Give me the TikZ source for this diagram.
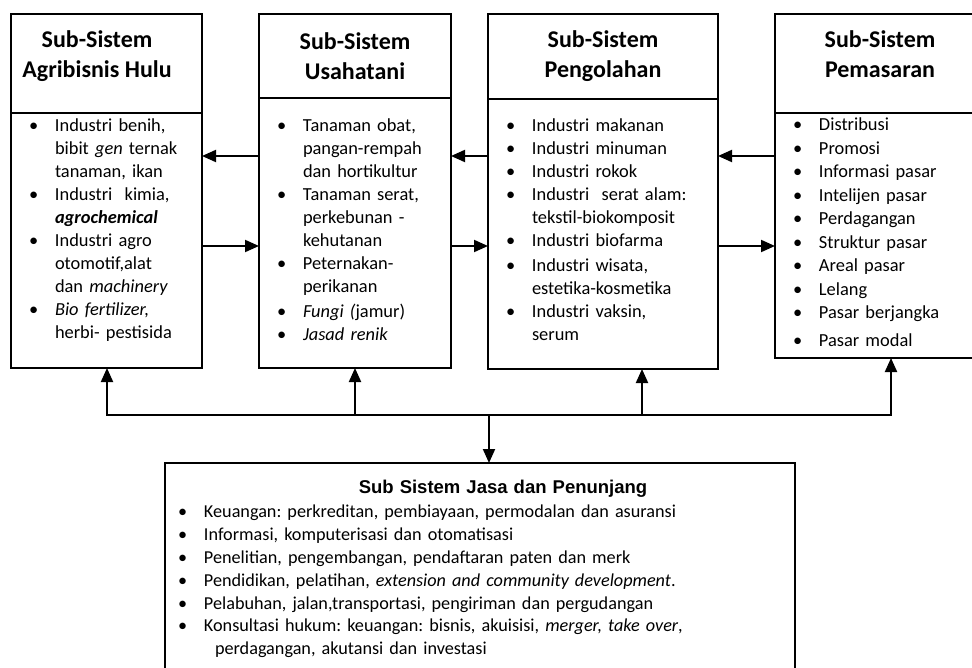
\documentclass[tikz,border=0pt]{standalone}
\usepackage{fontspec}
\setmainfont{Carlito}
\newfontfamily\arialfont{Liberation Sans}
\usetikzlibrary{arrows.meta}
\frenchspacing

% bullet items with hanging indent
\newcommand{\itm}[1]{\hangindent=26pt\hangafter=1\noindent\makebox[26pt][l]{\textbullet}#1\par}
\newcommand{\itmj}[1]{\hangindent=37pt\hangafter=1\noindent\makebox[26pt][l]{\textbullet}#1\par}
\newcommand{\hdeep}{\rule[-18.5pt]{0pt}{18.5pt}}

\begin{document}
\begin{tikzpicture}[
        x=1pt, y=-1pt,
        head_box/.style={draw, line width=1.8pt, outer sep=0pt, anchor=north, align=center,
            font=\fontsize{24}{30}\selectfont\bfseries},
        list_box/.style={draw, line width=1.8pt, outer sep=0pt, anchor=north, inner xsep=18pt,
            inner ysep=0pt, font=\fontsize{18.4}{23}\selectfont},
        jasa_box/.style={draw, line width=1.8pt, outer sep=0pt, anchor=north, inner xsep=13pt,
            inner ysep=0pt, text width=604pt, font=\fontsize{18.2}{22.8}\selectfont},
        arr/.style={line width=2pt, -{Triangle[length=14pt,width=12pt]}}
    ]

    \useasboundingbox (0,0) rectangle (972,668);
    \clip (0,0) rectangle (972,668);

    % --- Sub-Sistem Headers ---
    \node[head_box, minimum width=191pt, minimum height=99pt] (h1) at (106.5,14) {Sub-Sistem\hspace*{19pt}\\Agribisnis Hulu\hspace*{19pt}\hdeep};
    \node[head_box, minimum width=192pt, minimum height=84pt] (h2) at (355,14) {Sub-Sistem\\Usahatani};
    \node[head_box, minimum width=230pt, minimum height=85pt] (h3) at (603,14) {Sub-Sistem\\Pengolahan};
    \node[head_box, minimum width=210pt, minimum height=99pt] (h4) at (880,14) {Sub-Sistem\\Pemasaran\hdeep};

    % --- Sub-Sistem Lists ---
    \node[list_box, text width=155pt, text height=19pt, text depth=236pt] (b1) at (h1.south) {%
        \itm{Industri benih,\newline bibit \textit{gen} ternak\newline tanaman, ikan}%
        \itm{Industri\ \ kimia,\newline \textbf{\textit{agrochemical}}}%
        \itm{Industri agro\newline otomotif,alat\newline dan \textit{machinery}}%
        \itm{\textit{Bio fertilizer,}\newline herbi- pestisida}};
    \node[list_box, text width=156pt, text height=34pt, text depth=236pt] (b2) at (h2.south) {%
        \itm{Tanaman obat,\newline pangan-rempah\newline dan hortikultur}%
        \itm{Tanaman serat,\newline perkebunan -\newline kehutanan}%
        \itm{Peternakan-\newline perikanan}%
        \vspace{2pt}\itm{\textit{Fungi (}jamur)}%
        \itm{\textit{Jasad renik}}};
    \node[list_box, text width=194pt, text height=33pt, text depth=237pt] (b3) at (h3.south) {%
        \itm{Industri makanan}%
        \itm{Industri minuman}%
        \itm{Industri rokok}%
        \itm{Industri\ \ serat alam:\newline tekstil-biokomposit}%
        \itm{Industri biofarma}%
        \vspace{2pt}\itm{Industri wisata,\newline estetika-kosmetika}%
        \itm{Industri vaksin,\newline serum}};
    \node[list_box, text width=174pt, text height=18pt, text depth=227pt,
        font=\fontsize{18.4}{23.5}\selectfont] (b4) at (h4.south) {%
        \itm{Distribusi}%
        \itm{Promosi}%
        \itm{Informasi pasar}%
        \itm{Intelijen pasar}%
        \itm{Perdagangan}%
        \itm{Struktur pasar}%
        \itm{Areal pasar}%
        \itm{Lelang}%
        \itm{Pasar berjangka}%
        \vspace{4pt}\itm{Pasar modal}};

    % --- Jasa dan Penunjang ---
    \node[jasa_box, text height=30pt, text depth=190pt] (jasa) at (480,463) {%
        {\centering\hspace*{46pt}\fontsize{18.5}{22.8}\arialfont\bfseries Sub Sistem Jasa dan Penunjang\par}%
        \vspace{2pt}%
        \itmj{Keuangan: perkreditan, pembiayaan, permodalan dan asuransi}%
        \itmj{Informasi, komputerisasi dan otomatisasi}%
        \itmj{Penelitian, pengembangan, pendaftaran paten dan merk}%
        \itmj{Pendidikan, pelatihan, \textit{extension and community development}.}%
        \itmj{Pelabuhan, jalan,transportasi, pengiriman dan pergudangan}%
        \itmj{Konsultasi hukum: keuangan: bisnis, akuisisi, \textit{merger, take over},\newline perdagangan, akutansi dan investasi}};

    % --- Arrows between Sub-Sistem ---
    \coordinate (up) at (0,156);
    \coordinate (dn) at (0,246);
    \draw[arr] (b2.west |- up) -- (b1.east |- up);
    \draw[arr] (b1.east |- dn) -- (b2.west |- dn);
    \draw[arr] (b3.west |- up) -- (b2.east |- up);
    \draw[arr] (b2.east |- dn) -- (b3.west |- dn);
    \draw[arr] (b4.west |- up) -- (b3.east |- up);
    \draw[arr] (b3.east |- dn) -- (b4.west |- dn);

    % --- Bus to Jasa ---
    \coordinate (t1) at (107,415);
    \coordinate (t2) at (355,415);
    \coordinate (t3) at (642,415);
    \coordinate (t4) at (891,415);
    \coordinate (t0) at (489,415);
    \draw[line width=2pt, line cap=rect] (t1) -- (t4);
    \draw[arr] (t1) -- (t1 |- b1.south);
    \draw[arr] (t2) -- (t2 |- b2.south);
    \draw[arr] (t3) -- (t3 |- b3.south);
    \draw[arr] (t4) -- (t4 |- b4.south);
    \draw[arr] (t0) -- (t0 |- jasa.north);

\end{tikzpicture}
\end{document}
